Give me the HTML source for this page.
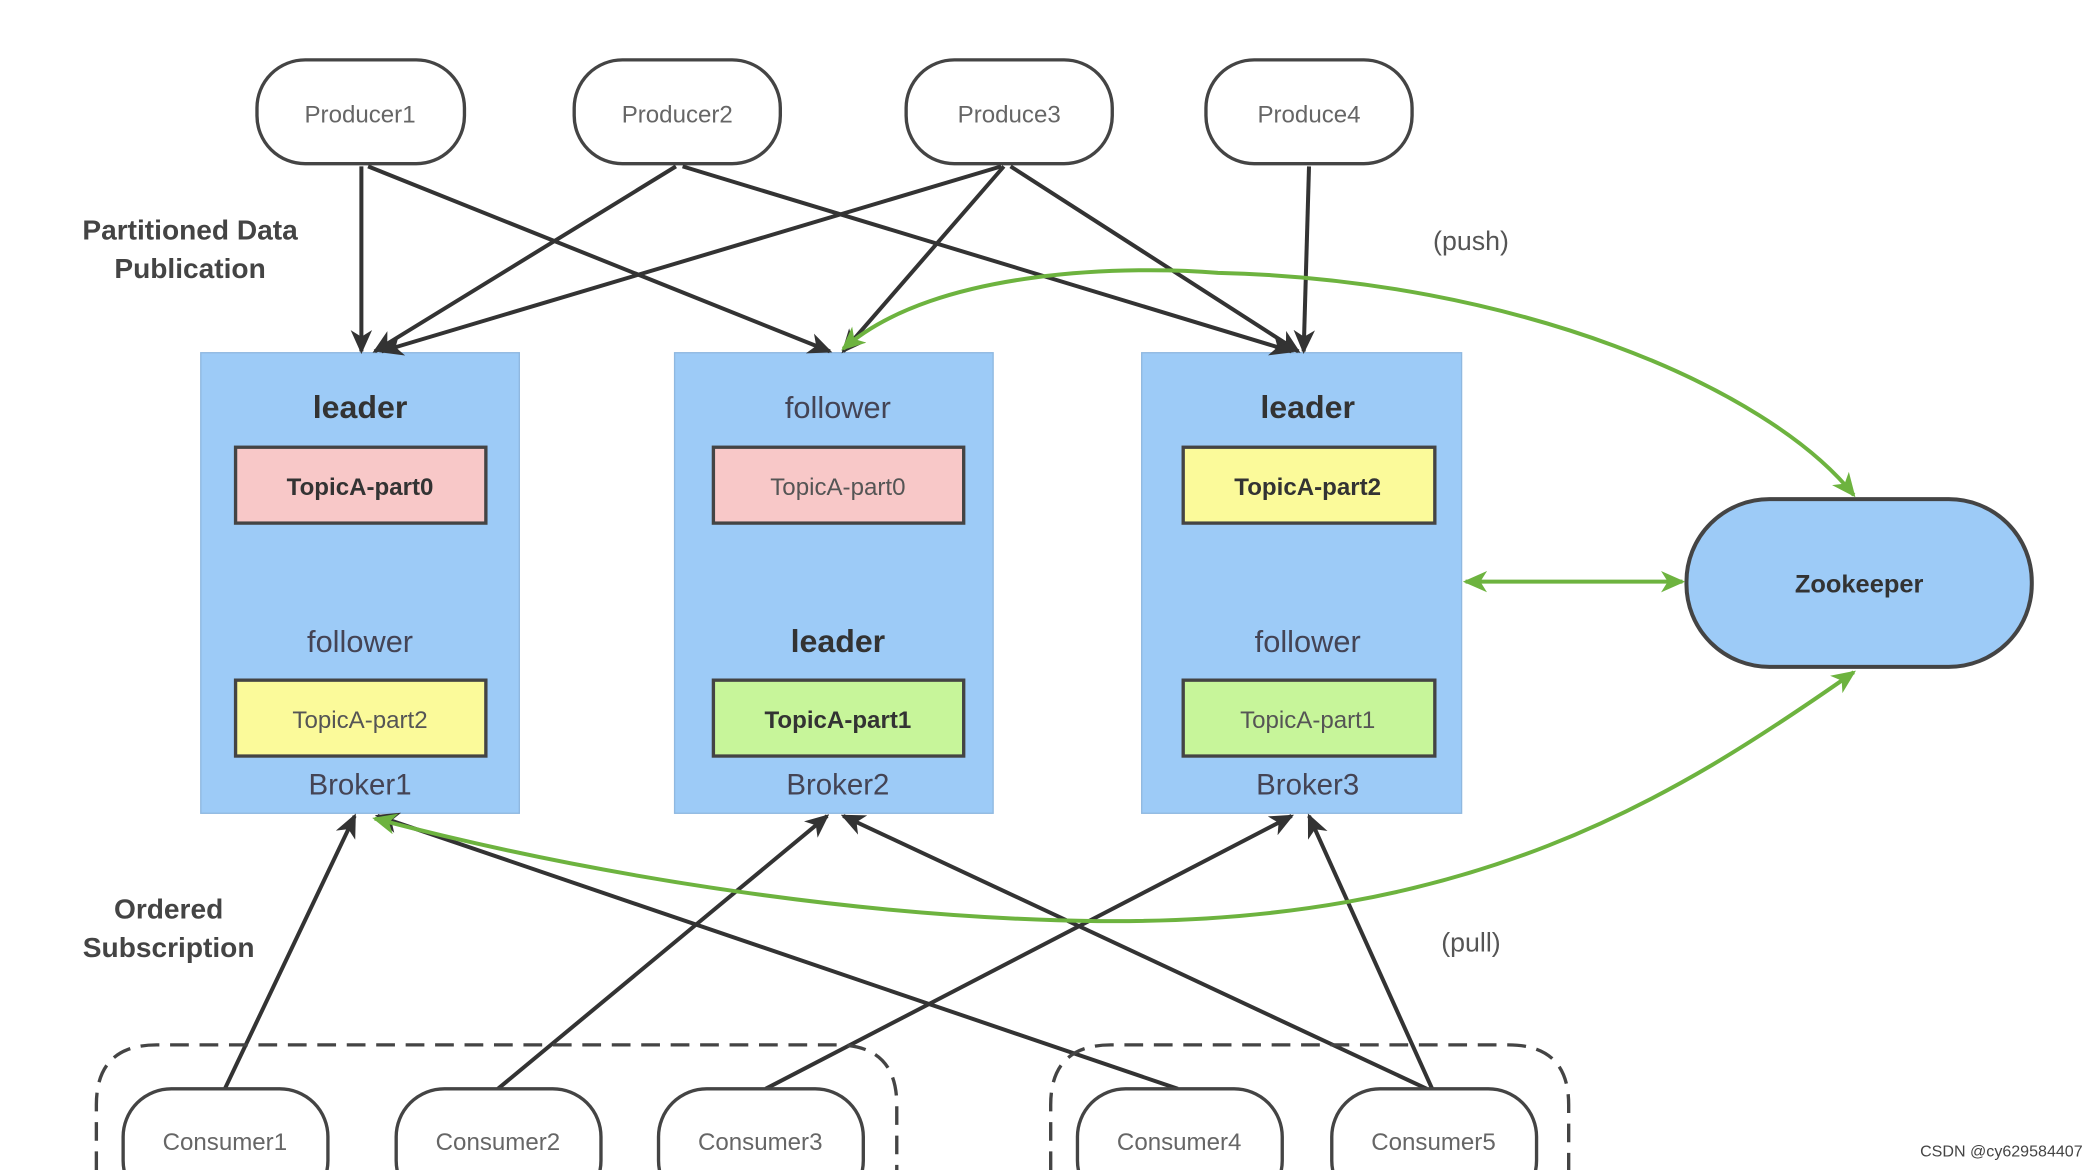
<!DOCTYPE html>
<html><head><meta charset="utf-8"><style>
html,body{margin:0;padding:0;background:#fff;}
svg{display:block}
text{font-family:"Liberation Sans",sans-serif;}
</style></head><body>
<svg width="2088" height="1170" viewBox="0 0 1560 879" preserveAspectRatio="none" xmlns="http://www.w3.org/2000/svg">
<defs>
<marker id="ab" markerWidth="18" markerHeight="16" refX="16" refY="8" orient="auto" markerUnits="userSpaceOnUse" viewBox="0 0 18 16"><path d="M0,0 L18,8 L0,16 L5,8 z" fill="#333"/></marker>
<marker id="ag" markerWidth="18" markerHeight="16" refX="16" refY="8" orient="auto-start-reverse" markerUnits="userSpaceOnUse" viewBox="0 0 18 16"><path d="M0,0 L18,8 L0,16 L5,8 z" fill="#6db33f"/></marker>
</defs>
<rect width="1560" height="879" fill="#fff"/>
<g fill="#fff" stroke="#444" stroke-width="2.5">
<rect x="192" y="45" width="155" height="78" rx="36"/>
<rect x="429" y="45" width="154" height="78" rx="36"/>
<rect x="677" y="45" width="154" height="78" rx="36"/>
<rect x="901" y="45" width="154" height="78" rx="36"/>
</g>
<g font-size="18" fill="#666" text-anchor="middle">
<text x="269" y="92">Producer1</text><text x="506" y="92">Producer2</text>
<text x="754" y="92">Produce3</text><text x="978" y="92">Produce4</text>
</g>
<g fill="#9dcbf7" stroke="#8fb8e0" stroke-width="1">
<rect x="150" y="265" width="238" height="346"/>
<rect x="504" y="265" width="238" height="346"/>
<rect x="853" y="265" width="239" height="346"/>
</g>
<g stroke="#444" stroke-width="2.5">
<rect x="176" y="336" width="187" height="57" fill="#f8c8c8"/>
<rect x="176" y="511" width="187" height="57" fill="#fbfa9a"/>
<rect x="533" y="336" width="187" height="57" fill="#f8c8c8"/>
<rect x="533" y="511" width="187" height="57" fill="#c7f59a"/>
<rect x="884" y="336" width="188" height="57" fill="#fbfa9a"/>
<rect x="884" y="511" width="188" height="57" fill="#c7f59a"/>
</g>
<g text-anchor="middle" fill="#333">
<text x="269" y="314" font-size="24" font-weight="bold">leader</text>
<text x="269" y="490" font-size="23" fill="#445">follower</text>
<text x="626" y="314" font-size="23" fill="#445">follower</text>
<text x="626" y="490" font-size="24" font-weight="bold">leader</text>
<text x="977" y="314" font-size="24" font-weight="bold">leader</text>
<text x="977" y="490" font-size="23" fill="#445">follower</text>
<text x="269" y="372" font-size="18" font-weight="bold">TopicA-part0</text>
<text x="269" y="547" font-size="18" fill="#555">TopicA-part2</text>
<text x="626" y="372" font-size="18" fill="#555">TopicA-part0</text>
<text x="626" y="547" font-size="18" font-weight="bold">TopicA-part1</text>
<text x="977" y="372" font-size="18" font-weight="bold">TopicA-part2</text>
<text x="977" y="547" font-size="18" fill="#555">TopicA-part1</text>
<text x="269" y="597" font-size="22" fill="#445">Broker1</text>
<text x="626" y="597" font-size="22" fill="#445">Broker2</text>
<text x="977" y="597" font-size="22" fill="#445">Broker3</text>
</g>
<rect x="1260" y="375" width="258" height="126" rx="62" fill="#9dcbf7" stroke="#444" stroke-width="3"/>
<text x="1389" y="445" font-size="19" font-weight="bold" fill="#333" text-anchor="middle">Zookeeper</text>
<g font-size="21" font-weight="bold" fill="#444" text-anchor="middle">
<text x="142" y="180">Partitioned Data</text><text x="142" y="209">Publication</text>
<text x="126" y="690">Ordered</text><text x="126" y="719">Subscription</text>
</g>
<g font-size="20" fill="#555" text-anchor="middle">
<text x="1099" y="188">(push)</text><text x="1099" y="715">(pull)</text>
</g>
<g stroke="#333" stroke-width="3" marker-end="url(#ab)">
<line x1="270" y1="125" x2="270" y2="264"/>
<line x1="275" y1="125" x2="620" y2="264"/>
<line x1="505" y1="125" x2="280" y2="264"/>
<line x1="510" y1="125" x2="965" y2="264"/>
<line x1="748" y1="125" x2="285" y2="264"/>
<line x1="750" y1="125" x2="630" y2="264"/>
<line x1="755" y1="125" x2="970" y2="264"/>
<line x1="978" y1="125" x2="974" y2="264"/>
<line x1="168" y1="818" x2="265" y2="613"/>
<line x1="372" y1="818" x2="618" y2="613"/>
<line x1="572" y1="818" x2="965" y2="613"/>
<line x1="880" y1="818" x2="282" y2="613"/>
<line x1="1066" y1="818" x2="630" y2="613"/>
<line x1="1070" y1="818" x2="978" y2="613"/>
</g>
<g stroke="#6db33f" stroke-width="3" fill="none" marker-start="url(#ag)" marker-end="url(#ag)">
<path d="M630,262 C700,200 850,200 910,205 C1130,210 1320,290 1385,372"/>
<path d="M280,615 C450,660 650,690 820,692 C1100,695 1250,600 1385,505"/>
<line x1="1095" y1="437" x2="1257" y2="437"/>
</g>
<g fill="none" stroke="#444" stroke-width="2.5" stroke-dasharray="14,8">
<path d="M72,879 L72,830 Q72,785 117,785 L625,785 Q670,785 670,830 L670,879"/>
<path d="M785,879 L785,830 Q785,785 830,785 L1127,785 Q1172,785 1172,830 L1172,879"/>
</g>
<g fill="#fff" stroke="#444" stroke-width="2.5">
<rect x="92" y="818" width="153" height="90" rx="36"/>
<rect x="296" y="818" width="153" height="90" rx="36"/>
<rect x="492" y="818" width="153" height="90" rx="36"/>
<rect x="805" y="818" width="153" height="90" rx="36"/>
<rect x="995" y="818" width="153" height="90" rx="36"/>
</g>
<g font-size="18" fill="#666" text-anchor="middle">
<text x="168" y="864">Consumer1</text><text x="372" y="864">Consumer2</text>
<text x="568" y="864">Consumer3</text><text x="881" y="864">Consumer4</text>
<text x="1071" y="864">Consumer5</text>
</g>
<text x="1556" y="869" font-size="12" fill="#444" text-anchor="end">CSDN @cy629584407</text>
</svg>
</body></html>
